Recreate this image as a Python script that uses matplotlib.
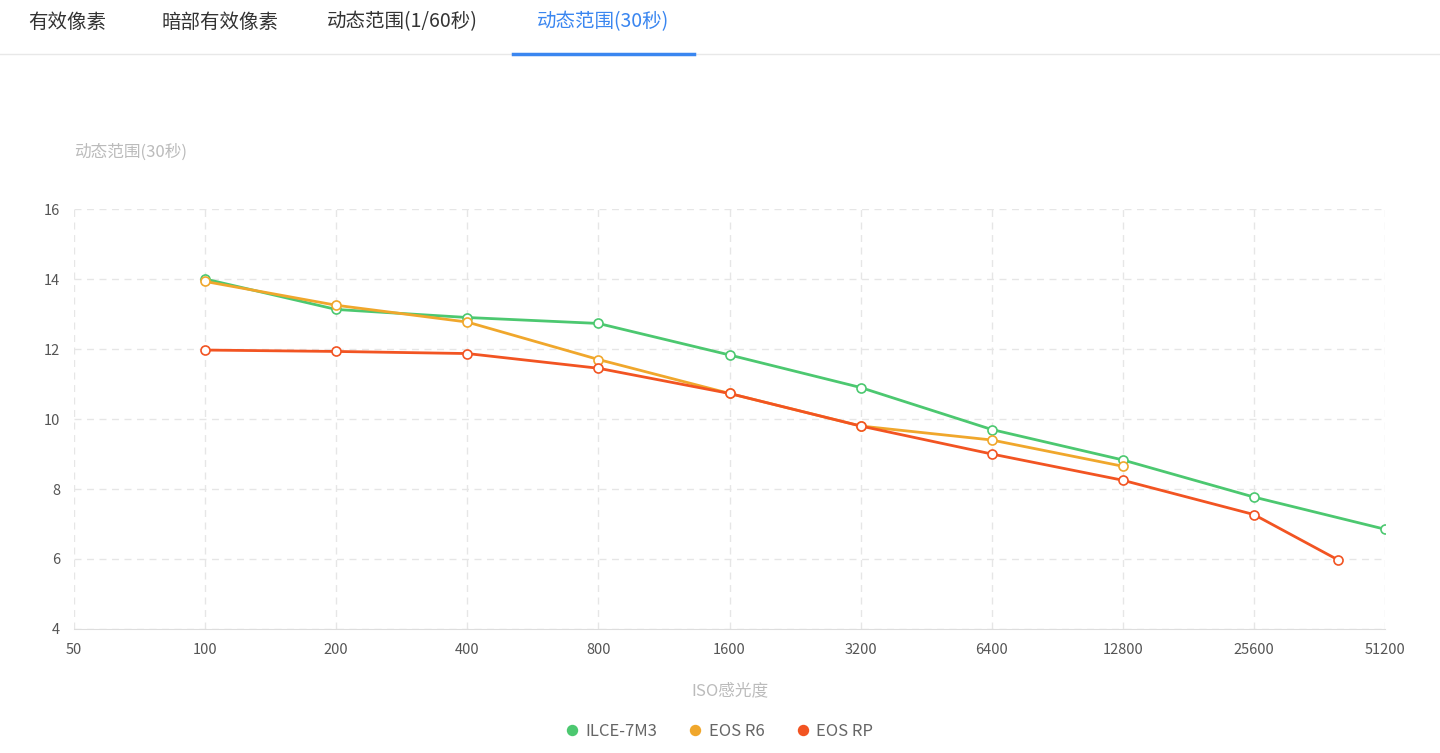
import numpy as np
import matplotlib
matplotlib.use("Agg")
import matplotlib.pyplot as plt

plt.rcParams['font.family'] = ['Noto Sans CJK SC', 'DejaVu Sans']

tabs = ["有效像素", "暗部有效像素", "动态范围(1/60秒)", "动态范围(30秒)"]
iso_ticks = [50, 100, 200, 400, 800, 1600, 3200, 6400, 12800, 25600, 51200]

a7m3_iso = [100, 200, 400, 800, 1600, 3200, 6400, 12800, 25600, 51200]
a7m3_dr = [14.0, 13.13, 12.9, 12.73, 11.83, 10.9, 9.7, 8.83, 7.77, 6.85]
r6_iso = [100, 200, 400, 800, 1600, 3200, 6400, 12800]
r6_dr = [13.93, 13.25, 12.77, 11.7, 10.73, 9.8, 9.4, 8.65]
rp_iso = [100, 200, 400, 800, 1600, 3200, 6400, 12800, 25600, 40000]
rp_dr = [11.97, 11.93, 11.87, 11.45, 10.73, 9.8, 9.0, 8.25, 7.27, 5.97]

series = [("ILCE-7M3", a7m3_iso, a7m3_dr, "#4cc870"),
          ("EOS R6", r6_iso, r6_dr, "#f0a72c"),
          ("EOS RP", rp_iso, rp_dr, "#f25422")]

fig = plt.figure(figsize=(14.4, 7.53), dpi=100)
ax = fig.add_axes([74/1440, 124/753, (1385-74)/1440, 420/753])

for name, xs, ys, col in series:
    ax.plot(xs, ys, color=col, lw=2, marker="o", ms=6.5, mfc="white", mec=col, mew=1.2, label=name)

ax.set_xscale("log", base=2)
ax.set_xlim(50, 51200)
ax.set_ylim(4, 16)
ax.set_xticks(iso_ticks)
ax.set_xticklabels([str(v) for v in iso_ticks])
ax.minorticks_off()
ax.set_yticks(range(4, 17, 2))
ax.grid(True, ls=(0, (5, 4)), color="#e6e6e6", lw=1)
for s in ["top", "right", "left"]:
    ax.spines[s].set_visible(False)
ax.spines["bottom"].set_color("#dddddd")
ax.tick_params(length=0, labelsize=10.5, colors="#555555", pad=10)
ax.set_xlabel("ISO感光度", color="#bbbbbb", fontsize=12, labelpad=18)
fig.text(74/1440, 1-152/753, "动态范围(30秒)", color="#bbbbbb", fontsize=12, va="center")

leg = fig.legend(loc="center", bbox_to_anchor=(0.5, 1-731/753), ncol=3, frameon=False,
                 fontsize=12, handlelength=0.6, handletextpad=0.5, columnspacing=2.0)
for h, (_, _, _, col) in zip(leg.legend_handles, series):
    h.set_linestyle("none"); h.set_marker("o"); h.set_markersize(7)
    h.set_markerfacecolor(col); h.set_markeredgecolor(col)
for t in leg.get_texts():
    t.set_color("#666666")

# tabs
tab_x = [67, 220, 402, 603]
for i, (x, t) in enumerate(zip(tab_x, tabs)):
    fig.text(x/1440, 1-22/753, t, ha="center", va="center", fontsize=14,
             color="#3a86f0" if i == 3 else "#333333")
fig.add_artist(plt.Line2D([0, 1], [1-54/753]*2, color="#e8e8e8", lw=1))
fig.add_artist(plt.Line2D([513/1440, 694/1440], [1-54/753]*2, color="#3a86f0", lw=2.5))

fig.savefig("out.png", dpi=100)
